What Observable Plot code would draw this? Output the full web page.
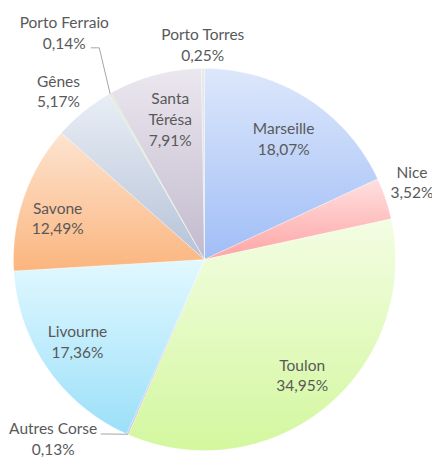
<!DOCTYPE html>
<html><head><meta charset="utf-8">
<script src="https://cdn.jsdelivr.net/npm/d3@7"></script>
<script src="https://cdn.jsdelivr.net/npm/@observablehq/plot@0.6"></script>
<style>
html,body{margin:0;padding:0;background:#fff;overflow:hidden;}
#chart{width:432px;height:459px;}
g[aria-label="pie-shadow"]{filter:drop-shadow(2px 3px 2.5px rgba(0,0,0,0.4));}
</style></head><body><div id="chart"></div>
<script>
// ---- data ----
const categories = ["Marseille","Nice","Toulon","Autres Corse","Livourne","Savone","Gênes","Porto Ferraio","Santa Térésa","Porto Torres"];
const shares = [18.07, 3.52, 34.95, 0.13, 17.36, 12.49, 5.17, 0.14, 7.91, 0.25];
const labelNames = ["Marseille","Nice","Toulon","Autres Corse","Livourne","Savone","Gênes","Porto Ferraio","Santa\nTérésa","Porto Torres"];

// ---- styles ----
const gradTop    = ["#dde7fb","#ffe0e0","#f3fde3","#c9b5e6","#e2f8ff","#fde4d0","#e9eef5","#d5e8c0","#ebe7ef","#e8e8e8"];
const gradBottom = ["#a0bef7","#ffa4a4","#d3f79e","#c9b5e6","#9be0f9","#fbb57e","#b5c2d8","#d5e8c0","#c2bacd","#e0e0e0"];
// label placement: radius (fraction of pie radius) and angular shift (degrees)
const labelRadius = [0.76, 1.16, 0.79, 1.225, 0.79, 0.80, 1.17, 1.40, 0.76, 1.13];
const labelShift  = [0.5, -2, -1, 16.5, 2, -3, -1.6, -2, 1.5, 0];
const R = 191; // pie radius in px (scale range)
const leaderOffsets = {"Porto Ferraio": [[27,16],[35,16]], "Autres Corse": [[48,-4]]};

// ---- geometry from data ----
const arcs = d3.pie().sort(null).value(d => d)(shares);
const slicePts = arcs.map((a, i) => {
  const pts = [{x: 0, y: 0}];
  const n = Math.max(2, Math.ceil((a.endAngle - a.startAngle) / (Math.PI / 720)));
  for (let k = 0; k <= n; k++) {
    const t = a.startAngle + (a.endAngle - a.startAngle) * k / n;
    pts.push({x: Math.sin(t), y: -Math.cos(t)});
  }
  pts.push({x: 0, y: 0});
  return pts;
});
const outline = slicePts.flatMap(p => p.slice(1, -1));

const fmt = v => v.toFixed(2).replace(".", ",") + "%";
const labels = arcs.map((a, i) => {
  const m = (a.startAngle + a.endAngle) / 2 + labelShift[i] * Math.PI / 180;
  return {x: labelRadius[i] * Math.sin(m), y: -labelRadius[i] * Math.cos(m), text: labelNames[i] + "\n" + fmt(shares[i]), name: categories[i]};
});

const leaders = [];
labels.forEach((l, i) => {
  const offs = leaderOffsets[l.name];
  if (!offs) return;
  offs.forEach(([dx, dy]) => leaders.push({id: i, x: l.x + dx / R, y: l.y + dy / R}));
  const a = arcs[i], m = (a.startAngle + a.endAngle) / 2;
  leaders.push({id: i, x: Math.sin(m), y: -Math.cos(m)});
});

const chart = Plot.plot({
  width: 432, height: 459,
  margin: 0,
  x: {domain: [-1, 1], range: [204 - R, 204 + R], axis: null},
  y: {domain: [-1, 1], range: [259 - R, 259 + R], axis: null},
  style: {fontFamily: "Lato, 'Open Sans', sans-serif", background: "white"},
  marks: [
    Plot.line(outline, {x: "x", y: "y", fill: "white", stroke: "none", ariaLabel: "pie-shadow"}),
    ...slicePts.map((pts, i) =>
      Plot.line(pts, {x: "x", y: "y", fill: `url(#grad${i})`, stroke: "white", strokeWidth: 0.6, strokeOpacity: 0.5})
    ),
    Plot.line(leaders, {x: "x", y: "y", z: "id", stroke: "#a6a6a6", strokeWidth: 1}),
    Plot.text(labels, {x: "x", y: "y", text: "text", fill: "#595959", fontSize: 15.5, lineHeight: 1.33, lineAnchor: "middle", textAnchor: "middle"})
  ]
});

const ns = "http://www.w3.org/2000/svg";
const defs = document.createElementNS(ns, "defs");
shares.forEach((_, i) => {
  const g = document.createElementNS(ns, "linearGradient");
  g.setAttribute("id", `grad${i}`);
  g.setAttribute("x1", "0"); g.setAttribute("y1", "0");
  g.setAttribute("x2", "0"); g.setAttribute("y2", "1");
  [[0, gradTop[i]], [1, gradBottom[i]]].forEach(([o, c]) => {
    const s = document.createElementNS(ns, "stop");
    s.setAttribute("offset", o); s.setAttribute("stop-color", c);
    g.appendChild(s);
  });
  defs.appendChild(g);
});
chart.insertBefore(defs, chart.firstChild);
document.getElementById("chart").appendChild(chart);
</script></body></html>
